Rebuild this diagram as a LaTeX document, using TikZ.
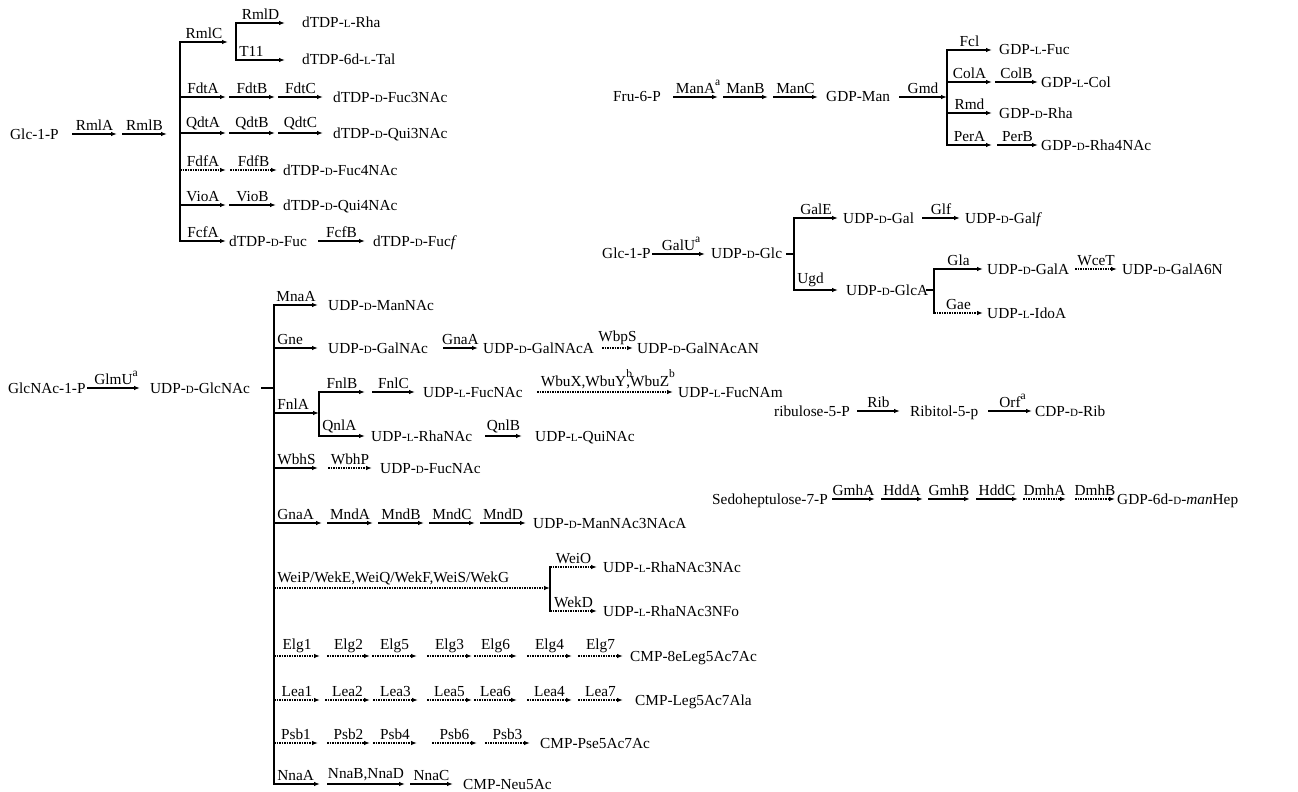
\documentclass[tikz,border=0pt]{standalone}
\usepackage{fontspec}
\setmainfont{Liberation Serif}
\usetikzlibrary{arrows.meta}

% 小型大写的 D / L
\newcommand{\sD}{{\fontsize{11}{12}\selectfont D}}
\newcommand{\sL}{{\fontsize{11}{12}\selectfont L}}
% 上标 a / b (不占宽度)
\newcommand{\supr}[1]{\rlap{\raisebox{0.55em}{\fontsize{11.5}{12}\selectfont #1}}}
% 带酶名的箭头: [样式]{名字}{x1}{x2}{y}{酶}
\newcommand{\enz}[6][arr]{%
  \coordinate (#2-s) at (#3,#5);
  \coordinate (#2-e) at (#4,#5);
  \draw[#1] (#2-s) -- node[lab] {#6} (#2-e);}
\newcommand{\enzl}[6][arr]{%
  \coordinate (#2-s) at (#3,#5);
  \coordinate (#2-e) at (#4,#5);
  \draw[#1] (#2-s) -- node[labl] {#6} (#2-e);}

\begin{document}
\begin{tikzpicture}[
    x=1pt, y=-1pt, % 按像素坐标
    every node/.style={font=\fontsize{15.3}{18}\selectfont},
    cpd/.style={anchor=base west, inner sep=0pt},
    arr/.style={line width=1.7pt, -{Latex[length=6pt,width=4.5pt]}},
    dotarr/.style={arr, line width=1.5pt, dash pattern=on 1.5pt off 1pt},
    trunk/.style={line width=2pt, line cap=rect},
    lab/.style={midway, above, inner sep=2.5pt},
    labl/.style={pos=0, anchor=south west, inner sep=2.5pt}
  ]
  \useasboundingbox (0,0) rectangle (1298,792);

  % dTDP 糖
  \node[cpd] (glcA) at (10,139) {Glc-1-P};
  \enz{rmlA}{72}{117}{134}{RmlA}
  \enz{rmlB}{122}{167}{134}{RmlB}
  \coordinate (tA1) at (180,42);
  \coordinate (tA2) at (180,241);
  \draw[trunk] (tA1) -- (tA2);
  \enz{rmlC}{180}{228}{42}{RmlC}
  \coordinate (tB1) at (236,23);
  \coordinate (tB2) at (236,60);
  \draw[trunk] (tB1) -- (tB2);
  \enz{rmlD}{236}{285}{23}{RmlD}
  \enzl{t11}{236}{285}{60}{T11}
  \node[cpd] (rha) at (302,28) {dTDP-\sL-Rha};
  \node[cpd] (tal) at (302,65) {dTDP-6d-\sL-Tal};
  \enz{fdtA}{180}{226}{97}{FdtA}
  \enz{fdtB}{229}{275}{97}{FdtB}
  \enz{fdtC}{278}{323}{97}{FdtC}
  \node[cpd] (fuc3) at (333,102) {dTDP-\sD-Fuc3NAc};
  \enz{qdtA}{180}{226}{133}{QdtA}
  \enz{qdtB}{229}{275}{133}{QdtB}
  \enz{qdtC}{278}{323}{133}{QdtC}
  \node[cpd] (qui3) at (333,138) {dTDP-\sD-Qui3NAc};
  \enz[dotarr]{fdfA}{180}{226}{170}{FdfA}
  \enz[dotarr]{fdfB}{230}{277}{170}{FdfB}
  \node[cpd] (fuc4) at (283,175) {dTDP-\sD-Fuc4NAc};
  \enz{vioA}{180}{226}{205}{VioA}
  \enz{vioB}{229}{276}{205}{VioB}
  \node[cpd] (qui4) at (283,210) {dTDP-\sD-Qui4NAc};
  \enz{fcfA}{180}{226}{241}{FcfA}
  \node[cpd] (fuc) at (229,246) {dTDP-\sD-Fuc};
  \enz{fcfB}{318}{365}{241}{FcfB}
  \node[cpd] (fucf) at (373,246) {dTDP-\sD-Fuc\textit{f}};

  % GDP 糖
  \node[cpd] (fru) at (613,101) {Fru-6-P};
  \enz{manA}{673}{718}{97}{ManA\supr{a}}
  \enz{manB}{723}{768}{97}{ManB}
  \enz{manC}{773}{818}{97}{ManC}
  \node[cpd] (gdpman) at (826,101) {GDP-Man};
  \enz{gmd}{899}{947}{97}{Gmd}
  \coordinate (tC1) at (947,50);
  \coordinate (tC2) at (947,145);
  \draw[trunk] (tC1) -- (tC2);
  \enz{fcl}{947}{992}{50}{Fcl}
  \node[cpd] (lfuc) at (999,55) {GDP-\sL-Fuc};
  \enz{colA}{947}{992}{82}{ColA}
  \enz{colB}{995}{1038}{82}{ColB}
  \node[cpd] (lcol) at (1041,87) {GDP-\sL-Col};
  \enz{rmd}{947}{992}{113}{Rmd}
  \node[cpd] (drha) at (999,118) {GDP-\sD-Rha};
  \enz{perA}{947}{992}{145}{PerA}
  \enz{perB}{997}{1038}{145}{PerB}
  \node[cpd] (rha4) at (1041,150) {GDP-\sD-Rha4NAc};

  % UDP-Glc 分支
  \node[cpd] (glcB) at (602,258) {Glc-1-P};
  \enz{galU}{652}{705}{254}{GalU\supr{a}}
  \node[cpd] (udpglc) at (711,258) {UDP-\sD-Glc};
  \coordinate (dD) at (787,254);
  \coordinate (tD1) at (794,218);
  \coordinate (tD2) at (794,290);
  \draw[trunk] (dD) -- (dD -| tD1);
  \draw[trunk] (tD1) -- (tD2);
  \enz{galE}{794}{838}{218}{GalE}
  \node[cpd] (gal) at (843,223) {UDP-\sD-Gal};
  \enz{glf}{922}{960}{218}{Glf}
  \node[cpd] (galf) at (965,223) {UDP-\sD-Gal\textit{f}};
  \enzl{ugd}{794}{838}{290}{Ugd}
  \node[cpd] (glcA2) at (846,295) {UDP-\sD-GlcA};
  \coordinate (dE) at (927,290);
  \coordinate (tE1) at (934,269);
  \coordinate (tE2) at (934,313);
  \draw[trunk] (dE) -- (dE -| tE1);
  \draw[trunk] (tE1) -- (tE2);
  \enz{gla}{934}{983}{269}{Gla}
  \node[cpd] (galA) at (987,274) {UDP-\sD-GalA};
  \enz[dotarr]{wceT}{1075}{1117}{269}{WceT}
  \node[cpd] (galA6N) at (1122,274) {UDP-\sD-GalA6N};
  \enz[dotarr]{gae}{934}{983}{313}{Gae}
  \node[cpd] (idoA) at (987,318) {UDP-\sL-IdoA};

  % UDP-GlcNAc 分支
  \node[cpd] (glcnac1p) at (8,393) {GlcNAc-1-P};
  \enz{glmU}{87}{140}{388}{GlmU\supr{a}}
  \node[cpd] (glcnac) at (150,393) {UDP-\sD-GlcNAc};
  \coordinate (dF) at (262,388);
  \coordinate (tF1) at (274,305);
  \coordinate (tF2) at (274,784);
  \draw[trunk] (dF) -- (dF -| tF1);
  \draw[trunk] (tF1) -- (tF2);
  \enz{mnaA}{274}{318}{305}{MnaA}
  \node[cpd] (mannac) at (328,310) {UDP-\sD-ManNAc};
  \enzl{gne}{274}{318}{348}{Gne}
  \node[cpd] (galnac) at (328,353) {UDP-\sD-GalNAc};
  \enz{gnaA}{443}{478}{348}{GnaA}
  \node[cpd] (galnacA) at (483,353) {UDP-\sD-GalNAcA};
  \enz[dotarr]{wbpS}{602}{633}{348}{WbpS}
  \node[cpd] (galnacAN) at (637,353) {UDP-\sD-GalNAcAN};
  \enzl{fnlA}{274}{319}{413}{FnlA}
  \coordinate (tG1) at (319,392);
  \coordinate (tG2) at (319,436);
  \draw[trunk] (tG1) -- (tG2);
  \enz{fnlB}{319}{365}{392}{FnlB}
  \enz{fnlC}{372}{415}{392}{FnlC}
  \node[cpd] (fucnac) at (423,397) {UDP-\sL-FucNAc};
  \enz[dotarr]{wbu}{537}{673}{392}{WbuX,WbuY\supr{b},WbuZ\supr{b}}
  \node[cpd] (fucnam) at (678,397) {UDP-\sL-FucNAm};
  \enzl{qnlA}{319}{365}{436}{QnlA}
  \node[cpd] (rhanac) at (371,441) {UDP-\sL-RhaNAc};
  \enz{qnlB}{485}{522}{436}{QnlB}
  \node[cpd] (quinac) at (535,441) {UDP-\sL-QuiNAc};
  \enzl{wbhS}{274}{318}{468}{WbhS}
  \enz[dotarr]{wbhP}{328}{372}{468}{WbhP}
  \node[cpd] (dfucnac) at (380,473) {UDP-\sD-FucNAc};
  \enzl{gnaA2}{274}{322}{523}{GnaA}
  \enz{mndA}{327}{373}{523}{MndA}
  \enz{mndB}{378}{424}{523}{MndB}
  \enz{mndC}{429}{475}{523}{MndC}
  \enz{mndD}{480}{526}{523}{MndD}
  \node[cpd] (mannacA) at (533,528) {UDP-\sD-ManNAc3NAcA};
  \enzl[dotarr]{wei}{274}{550}{588}{WeiP/WekE,WeiQ/WekF,WeiS/WekG}
  \coordinate (tH1) at (550,567);
  \coordinate (tH2) at (550,611);
  \draw[trunk] (tH1) -- (tH2);
  \enz[dotarr]{weiO}{550}{597}{567}{WeiO}
  \node[cpd] (rha3nac) at (603,572) {UDP-\sL-RhaNAc3NAc};
  \enz[dotarr]{wekD}{550}{597}{611}{WekD}
  \node[cpd] (rha3nfo) at (603,616) {UDP-\sL-RhaNAc3NFo};

  % CMP 非酮糖酸
  \enz[dotarr]{elg1}{274}{320}{656}{Elg1}
  \enz[dotarr]{elg2}{327}{370}{656}{Elg2}
  \enz[dotarr]{elg5}{372}{417}{656}{Elg5}
  \enz[dotarr]{elg3}{427}{472}{656}{Elg3}
  \enz[dotarr]{elg6}{474}{517}{656}{Elg6}
  \enz[dotarr]{elg4}{527}{572}{656}{Elg4}
  \enz[dotarr]{elg7}{578}{623}{656}{Elg7}
  \node[cpd] (leg8e) at (630,661) {CMP-8eLeg5Ac7Ac};
  \enz[dotarr]{lea1}{274}{320}{700}{Lea1}
  \enz[dotarr]{lea2}{325}{370}{700}{Lea2}
  \enz[dotarr]{lea3}{373}{418}{700}{Lea3}
  \enz[dotarr]{lea5}{427}{472}{700}{Lea5}
  \enz[dotarr]{lea6}{474}{517}{700}{Lea6}
  \enz[dotarr]{lea4}{527}{572}{700}{Lea4}
  \enz[dotarr]{lea7}{578}{623}{700}{Lea7}
  \node[cpd] (legala) at (635,705) {CMP-Leg5Ac7Ala};
  \enz[dotarr]{psb1}{274}{318}{743}{Psb1}
  \enz[dotarr]{psb2}{327}{370}{743}{Psb2}
  \enz[dotarr]{psb4}{373}{417}{743}{Psb4}
  \enz[dotarr]{psb6}{432}{477}{743}{Psb6}
  \enz[dotarr]{psb3}{485}{530}{743}{Psb3}
  \node[cpd] (pse) at (540,748) {CMP-Pse5Ac7Ac};
  \enzl{nnaA}{274}{320}{784}{NnaA}
  \enz{nnaB}{327}{405}{784}{NnaB,NnaD}
  \enz{nnaC}{410}{453}{784}{NnaC}
  \node[cpd] (neu) at (463,789) {CMP-Neu5Ac};

  % CDP-Rib
  \node[cpd] (ribu) at (774,416) {ribulose-5-P};
  \enz{rib}{857}{900}{411}{Rib}
  \node[cpd] (ribitol) at (910,416) {Ribitol-5-p};
  \enz{orf}{988}{1032}{411}{Orf\supr{a}}
  \node[cpd] (cdprib) at (1035,416) {CDP-\sD-Rib};

  % GDP-6d-manHep
  \node[cpd] (sedo) at (712,504) {Sedoheptulose-7-P};
  \enz{gmhA}{832}{875}{499}{GmhA}
  \enz{hddA}{881}{923}{499}{HddA}
  \enz{gmhB}{928}{970}{499}{GmhB}
  \enz{hddC}{976}{1018}{499}{HddC}
  \enz[dotarr]{dmhA}{1023}{1066}{499}{DmhA}
  \enz[dotarr]{dmhB}{1075}{1115}{499}{DmhB}
  \node[cpd] (manhep) at (1117,504) {GDP-6d-\sD-\textit{man}Hep};
\end{tikzpicture}
\end{document}
